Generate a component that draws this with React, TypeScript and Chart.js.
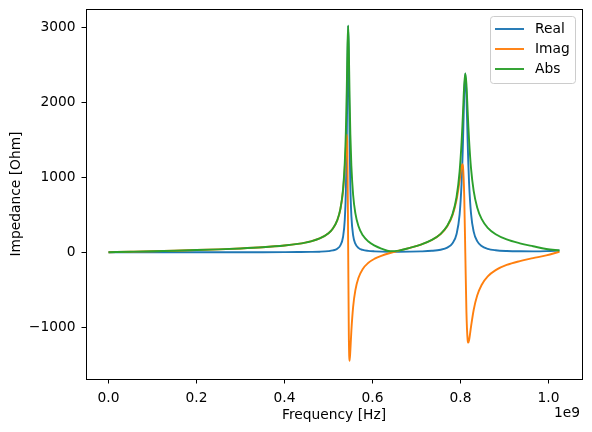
import { useEffect, useRef } from "react";
import { Chart, registerables } from "chart.js";

Chart.register(...registerables);

// Frequency axis, in units of 1e9 Hz
const freqGHz = [
  0, 0.05, 0.1, 0.15, 0.2, 0.25, 0.3, 0.35, 0.4,
  0.43, 0.46, 0.48, 0.5, 0.51, 0.52, 0.527, 0.533, 0.537, 0.5395,
  0.5415, 0.5432, 0.5447, 0.5462, 0.548, 0.5497, 0.552, 0.556, 0.561, 0.568,
  0.578, 0.59, 0.605, 0.62, 0.64, 0.66, 0.685, 0.71, 0.735, 0.755,
  0.77, 0.782, 0.791, 0.798, 0.8025, 0.8043, 0.8058, 0.8085, 0.811, 0.8135,
  0.8162, 0.8178, 0.8195, 0.824, 0.83, 0.838, 0.848, 0.862, 0.88, 0.905,
  0.935, 0.965, 0.995, 1.025,
];

// Impedance components in Ohm
const realOhm = [
  0, 0, 0, 0, 0.1, 0.1, 0.2, 0.5, 1.3,
  2.2, 4.0, 6.9, 14.5, 24.0, 47.4, 91.3, 202.6, 431.9, 811.0,
  1488.2, 2464.0, 3017.2, 2467.4, 1451.6, 869.9, 484.4, 224.8, 114.0, 58.2,
  30.2, 17.6, 11.4, 8.5, 7.1, 6.9, 8.1, 11.2, 18.6, 33.4,
  61.4, 120.0, 240.1, 501.5, 917.6, 1197.1, 1493.4, 2094.8, 2381.7, 2096.4,
  1500.4, 1190.0, 929.6, 514.3, 274.5, 147.7, 82.2, 45.7, 26.9, 16.5,
  12.1, 11.4, 13.9, 22.6,
];

const imagOhm = [
  0, 6.5, 13.2, 20.4, 28.5, 37.9, 49.7, 65.4, 88.8,
  110.5, 144.8, 183.2, 252.7, 315.4, 425.4, 569.8, 810.0, 1113.0, 1394.9,
  1566.4, 1226.3, 59.6, -1104.3, -1446.4, -1304.9, -1044.7, -727.7, -508.3, -344.2,
  -222.8, -144.1, -86.2, -47.9, -10.3, 20.5, 57.9, 101.3, 162.4, 242.4,
  345.9, 494.2, 693.8, 950.4, 1140.1, 1172.5, 1134.0, 758.5, -15.8, -788.1,
  -1163.7, -1204.0, -1174.4, -990.9, -769.2, -577.7, -435.9, -321.8, -237.9, -169.7,
  -118.2, -78.8, -41.1, 5.9,
];

const absOhm = [
  0, 6.5, 13.2, 20.4, 28.5, 37.9, 49.7, 65.4, 88.8,
  110.5, 144.9, 183.3, 253.1, 316.3, 428.0, 577.1, 835.0, 1193.9, 1613.5,
  2160.6, 2752.3, 3017.8, 2703.2, 2049.2, 1568.3, 1151.5, 761.6, 520.9, 349.1,
  224.8, 145.2, 86.9, 48.6, 12.5, 21.6, 58.5, 101.9, 163.5, 244.7,
  351.3, 508.6, 734.2, 1074.6, 1463.5, 1675.6, 1875.2, 2227.9, 2381.7, 2239.6,
  1898.8, 1692.8, 1497.8, 1116.4, 816.7, 596.3, 443.6, 325.0, 239.4, 170.5,
  118.8, 79.6, 43.4, 23.4,
];

const seriesNames = ["Real", "Imag", "Abs"];
const seriesColors = ["#1f77b4", "#ff7f0e", "#2ca02c"];

const xTickValues = [0, 0.2, 0.4, 0.6, 0.8, 1.0];
const xTickLabels = ["0.0", "0.2", "0.4", "0.6", "0.8", "1.0"];
const yTickValues = [-1000, 0, 1000, 2000, 3000];
const yTickLabels = ["\u22121000", "0", "1000", "2000", "3000"];

const xLabel = "Frequency [Hz]";
const yLabel = "Impedance [Ohm]";
const xOffsetText = "1e9";

const FONT = "'DejaVu Sans', sans-serif";
const FONT_SIZE = 13.8;

// Axes frame, scale offset text and the boxed legend in the upper right
const framePlugin = {
  id: "frame",
  afterDraw(chart: any) {
    const { ctx, chartArea } = chart;
    const { left, right, top, bottom } = chartArea;
    ctx.save();
    ctx.strokeStyle = "#000";
    ctx.lineWidth = 1;
    ctx.strokeRect(Math.round(left) + 0.5, Math.round(top) + 0.5, Math.round(right - left), Math.round(bottom - top));

    ctx.fillStyle = "#000";
    ctx.font = `${FONT_SIZE}px ${FONT}`;
    ctx.textAlign = "right";
    ctx.textBaseline = "middle";
    ctx.fillText(xOffsetText, right - 2, 413);

    // legend
    const bx = 490.5, by = 16.5, bw = 85, bh = 67, r = 3;
    ctx.beginPath();
    ctx.moveTo(bx + r, by);
    ctx.lineTo(bx + bw - r, by);
    ctx.quadraticCurveTo(bx + bw, by, bx + bw, by + r);
    ctx.lineTo(bx + bw, by + bh - r);
    ctx.quadraticCurveTo(bx + bw, by + bh, bx + bw - r, by + bh);
    ctx.lineTo(bx + r, by + bh);
    ctx.quadraticCurveTo(bx, by + bh, bx, by + bh - r);
    ctx.lineTo(bx, by + r);
    ctx.quadraticCurveTo(bx, by, bx + r, by);
    ctx.closePath();
    ctx.fillStyle = "rgba(255,255,255,0.8)";
    ctx.fill();
    ctx.strokeStyle = "#cccccc";
    ctx.lineWidth = 1;
    ctx.stroke();

    ctx.textAlign = "left";
    chart.data.datasets.forEach((ds: any, i: number) => {
      const y = 29 + i * 20;
      ctx.strokeStyle = ds.borderColor;
      ctx.lineWidth = 1.9;
      ctx.beginPath();
      ctx.moveTo(495, y);
      ctx.lineTo(524, y);
      ctx.stroke();
      ctx.fillStyle = "#000";
      ctx.fillText(ds.label, 535, y);
    });
    ctx.restore();
  },
};

export default function App() {
  const canvasRef = useRef<HTMLCanvasElement | null>(null);

  useEffect(() => {
    const canvas = canvasRef.current;
    if (!canvas) return;
    Chart.defaults.font.family = FONT;
    Chart.defaults.font.size = FONT_SIZE;
    Chart.defaults.color = "#000";

    const series = [realOhm, imagOhm, absOhm];
    const chart = new Chart(canvas, {
      type: "line",
      data: {
        datasets: series.map((vals, i) => ({
          label: seriesNames[i],
          data: freqGHz.map((f, j) => ({ x: f, y: vals[j] })),
          borderColor: seriesColors[i],
          backgroundColor: seriesColors[i],
          borderWidth: 1.9,
          pointRadius: 0,
          cubicInterpolationMode: "monotone" as const,
          fill: false,
          // later series are painted over earlier ones
          order: series.length - i,
        })),
      },
      options: {
        animation: false,
        responsive: false,
        events: [],
        layout: { padding: { left: 0, top: 9, right: 10, bottom: 0 } },
        plugins: { legend: { display: false }, tooltip: { enabled: false } },
        scales: {
          x: {
            type: "linear",
            min: -0.05125,
            max: 1.07625,
            afterBuildTicks: (scale: any) => {
              scale.ticks = xTickValues.map((v) => ({ value: v }));
            },
            afterFit: (scale: any) => {
              scale.height = 53;
              scale.paddingLeft = 0;
              scale.paddingRight = 0;
            },
            ticks: {
              autoSkip: false,
              maxRotation: 0,
              padding: 7,
              color: "#000",
              callback: (_v: any, i: number) => xTickLabels[i],
            },
            grid: { display: true, drawOnChartArea: false, drawTicks: true, tickLength: 4.5, color: "#000", lineWidth: 1 },
            border: { display: false },
            title: { display: true, text: xLabel, color: "#000", padding: { top: 0, bottom: 8 } },
          },
          y: {
            type: "linear",
            min: -1689,
            max: 3240,
            afterBuildTicks: (scale: any) => {
              scale.ticks = yTickValues.map((v) => ({ value: v }));
            },
            afterFit: (scale: any) => {
              scale.width = 86;
              scale.paddingTop = 0;
              scale.paddingBottom = 0;
            },
            ticks: {
              autoSkip: false,
              padding: 6,
              color: "#000",
              callback: (_v: any, i: number) => yTickLabels[i],
            },
            grid: { display: true, drawOnChartArea: false, drawTicks: true, tickLength: 4.5, color: "#000", lineWidth: 1 },
            border: { display: false },
            title: { display: true, text: yLabel, color: "#000", padding: { top: 8, bottom: 0 } },
          },
        },
      },
      plugins: [framePlugin],
    });
    return () => chart.destroy();
  }, []);

  return (
    <div style={{ position: "absolute", left: 0, top: 0, width: 592, height: 432, background: "#fff" }}>
      <canvas ref={canvasRef} width={592} height={432} style={{ display: "block", width: 592, height: 432 }} />
    </div>
  );
}
